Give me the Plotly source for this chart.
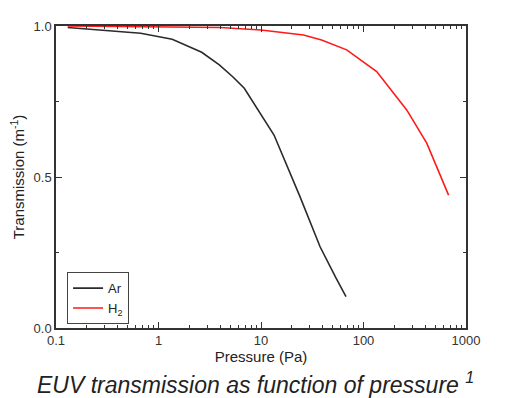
import plotly.graph_objects as go

# Data
ar_pressure = [0.13, 0.67, 1.36, 2.64, 3.92, 5.3, 6.87, 13.4, 24, 37.7, 54, 67.5]
ar_trans = [0.995, 0.976, 0.956, 0.913, 0.871, 0.832, 0.794, 0.639, 0.435, 0.269, 0.165, 0.104]

h2_pressure = [0.13, 1, 4, 10, 26, 39, 68.5, 134.5, 264, 414, 676]
h2_trans = [1.0, 0.998, 0.995, 0.987, 0.970, 0.954, 0.921, 0.849, 0.722, 0.612, 0.440]

x_tick_vals = [0.1, 1, 10, 100, 1000]
x_tick_text = ["0.1", "1", "10", "100", "1000"]
y_tick_vals = [0.0, 0.5, 1.0]
y_tick_text = ["0.0", "0.5", "1.0"]

minor_x = [m * d for d in [0.1, 1, 10, 100] for m in range(2, 10)]

FONT = "Arial, Liberation Sans, sans-serif"
AXC = "#333333"

fig = go.Figure()
fig.add_trace(go.Scatter(x=ar_pressure, y=ar_trans, mode="lines", name="Ar",
                         line=dict(color="#2b2b2b", width=1.6)))
fig.add_trace(go.Scatter(x=h2_pressure, y=h2_trans, mode="lines", name="H<sub>2</sub>",
                         line=dict(color="#ff1a1a", width=1.6)))

fig.update_layout(
    width=498, height=390,
    paper_bgcolor="white", plot_bgcolor="white",
    margin=dict(l=48, r=40, t=18, b=70),
    font=dict(family=FONT, size=13, color=AXC),
    showlegend=True,
    legend=dict(x=0.027, y=0.185, xanchor="left", yanchor="top",
                bordercolor="#444444", borderwidth=1, bgcolor="white",
                font=dict(size=13, color="#222222"),
                tracegroupgap=0, itemwidth=30),
    xaxis=dict(type="log", range=[-1, 3],
               tickmode="array", tickvals=x_tick_vals, ticktext=x_tick_text,
               ticks="inside", ticklen=6, tickwidth=1, tickcolor=AXC,
               minor=dict(tickmode="array", tickvals=minor_x, ticks="inside",
                          ticklen=3, tickcolor=AXC, showgrid=False),
               showline=True, linecolor=AXC, linewidth=1.5, mirror="ticks",
               showgrid=False, zeroline=False, automargin=False,
               title=dict(text="Pressure (Pa)", standoff=0,
                          font=dict(size=15, color="#222222"))),
    yaxis=dict(range=[0, 1],
               tickmode="array", tickvals=y_tick_vals, ticktext=y_tick_text,
               ticks="inside", ticklen=6, tickwidth=1, tickcolor=AXC,
               minor=dict(tickmode="array", tickvals=[0.25, 0.75], ticks="inside",
                          ticklen=3, tickcolor=AXC, showgrid=False),
               showline=True, linecolor=AXC, linewidth=1.5, mirror="ticks",
               showgrid=False, zeroline=False, automargin=False,
               title=dict(text="Transmission (m<sup>-1</sup>)", standoff=6,
                          font=dict(size=15, color="#222222"))),
    annotations=[dict(text="<i>EUV transmission as function of pressure <sup>1</sup></i>",
                      xref="paper", yref="paper", x=0.486, y=-0.182,
                      xanchor="center", yanchor="middle", showarrow=False,
                      font=dict(family=FONT, size=23, color="#222222"))],
)

fig.write_html("out.html")
